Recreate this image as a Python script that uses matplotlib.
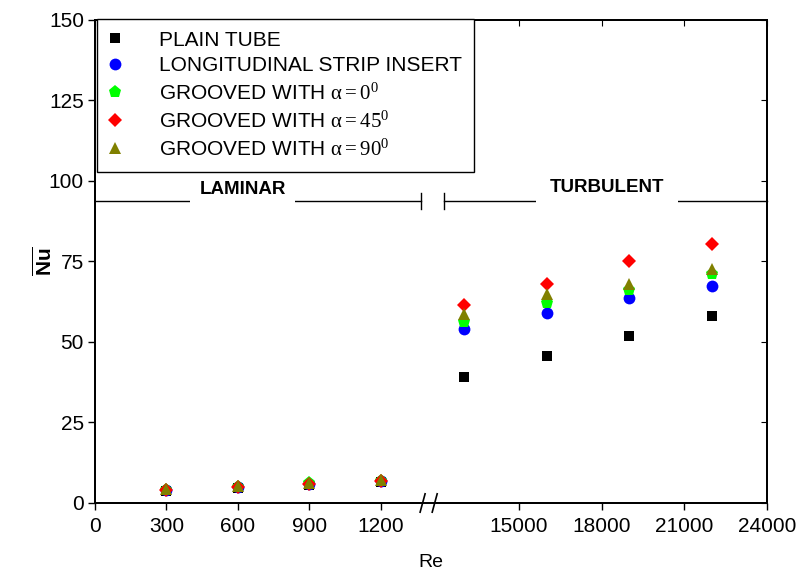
import matplotlib

matplotlib.use("Agg")
import matplotlib.pyplot as plt
import numpy as np

plt.rcParams["font.family"] = ["Liberation Sans", "DejaVu Sans"]
plt.rcParams["mathtext.fontset"] = "custom"
plt.rcParams["mathtext.rm"] = "Liberation Serif"
plt.rcParams["mathtext.it"] = "Liberation Serif"
plt.rcParams["mathtext.bf"] = "Liberation Sans:bold"

# --- data ---
re = [300, 600, 900, 1200, 13000, 16000, 19000, 22000]
nu_plain = [3.6, 4.6, 5.6, 6.5, 39.1, 45.5, 51.9, 58.0]
nu_strip = [4.0, 5.0, 6.0, 6.8, 53.9, 59.1, 63.6, 67.3]
nu_g0 = [4.1, 5.1, 6.1, 6.9, 56.2, 62.1, 66.2, 71.1]
nu_g45 = [4.0, 5.0, 5.9, 6.7, 61.4, 67.9, 75.0, 80.5]
nu_g90 = [4.3, 5.3, 6.3, 7.0, 58.8, 64.8, 68.1, 72.6]

labels = [
    "PLAIN TUBE",
    "LONGITUDINAL STRIP INSERT",
    r"GROOVED WITH $\alpha = 0^0$",
    r"GROOVED WITH $\alpha = 45^0$",
    r"GROOVED WITH $\alpha = 90^0$",
]

xticks = [0, 300, 600, 900, 1200, 15000, 18000, 21000, 24000]
yticks = [0, 25, 50, 75, 100, 125, 150]

# broken x axis: 0-1400 on the left half, 12000-24000 on the right half
brk_re = [0, 1400, 12000, 24000]
brk_u = [0, 0.496, 0.508, 1.0]


def fwd(x):
    return np.interp(x, brk_re, brk_u)


def inv(u):
    return np.interp(u, brk_u, brk_re)


series = [
    (nu_plain, "s", "#000000", 7),
    (nu_strip, "o", "#0000ff", 8.5),
    (nu_g0, "p", "#00ff00", 9.5),
    (nu_g45, "D", "#ff0000", 7.5),
    (nu_g90, "^", "#808000", 9),
]

fig = plt.figure(figsize=(8.0, 5.74), dpi=100)
ax = fig.add_axes([0.11875, 0.1237, 0.84, 0.8415])
ax.set_xscale("function", functions=(fwd, inv))
ax.set_xlim(0, 24000)
ax.set_ylim(0, 150)

handles = []
for (vals, mk, col, ms), lab in zip(series, labels):
    (h,) = ax.plot(re, vals, linestyle="none", marker=mk, color=col,
                   markersize=ms, markeredgewidth=0, label=lab)
    handles.append(h)

ax.set_xticks(xticks)
ax.set_xticklabels([str(t) for t in xticks])
ax.set_yticks(yticks)
ax.tick_params(direction="out", length=5, width=1, labelsize=15, pad=3)
ax.tick_params(axis="x", pad=5)
for s in ax.spines.values():
    s.set_linewidth(1.2)

ax.set_xlabel("Re", fontsize=14, labelpad=13)
ax.set_ylabel(r"$\overline{\mathbf{Nu}}$", fontsize=15, labelpad=-5)

# top / right ticks pointing inwards
axt = ax.twiny()
axt.set_xscale("function", functions=(fwd, inv))
axt.set_xlim(ax.get_xlim())
axt.set_xticks(xticks)
axt.tick_params(direction="in", length=4, labeltop=False)
axr = axt.twinx()
axr.set_ylim(ax.get_ylim())
axr.set_yticks(yticks)
axr.tick_params(direction="in", length=4, labelright=False)
for a in (axt, axr):
    for s in a.spines.values():
        s.set_linewidth(1.2)

# regime annotation
lam_end, turb_start = 1370, 12270
y_reg = 93.8
ax.plot([0, lam_end], [y_reg, y_reg], color="black", lw=1, clip_on=False)
ax.plot([turb_start, 24000], [y_reg, y_reg], color="black", lw=1, clip_on=False)
for xv in (lam_end, turb_start):
    ax.plot([xv, xv], [y_reg - 2.5, y_reg + 2.5], color="black", lw=1)
ax.text(620, y_reg + 1.0, "LAMINAR", fontsize=13.5, fontweight="bold",
        ha="center", va="bottom",
        bbox=dict(facecolor="white", edgecolor="none", pad=6.5))
ax.text(18200, y_reg + 1.5, "TURBULENT", fontsize=13.5, fontweight="bold",
        ha="center", va="bottom",
        bbox=dict(facecolor="white", edgecolor="none", pad=10))

# break marks on the bottom axis
ax.plot([0.4885, 0.5045], [0, 0], transform=ax.transAxes, color="white",
        lw=3, clip_on=False, zorder=5)
for xc in (0.4875, 0.5055):
    ax.plot([xc - 0.0037, xc + 0.0037], [-0.019, 0.019], transform=ax.transAxes,
            color="black", lw=1.2, clip_on=False, zorder=6)

leg = axr.legend(handles=handles, loc="upper left", bbox_to_anchor=(0.003, 1.003),
                 fontsize=15, frameon=True, fancybox=False, framealpha=1,
                 edgecolor="black", borderaxespad=0, handlelength=0.55,
                 handletextpad=1.84, labelspacing=0.33, borderpad=0.58)
leg.get_frame().set_linewidth(1.0)

fig.savefig("out.png", dpi=100)
